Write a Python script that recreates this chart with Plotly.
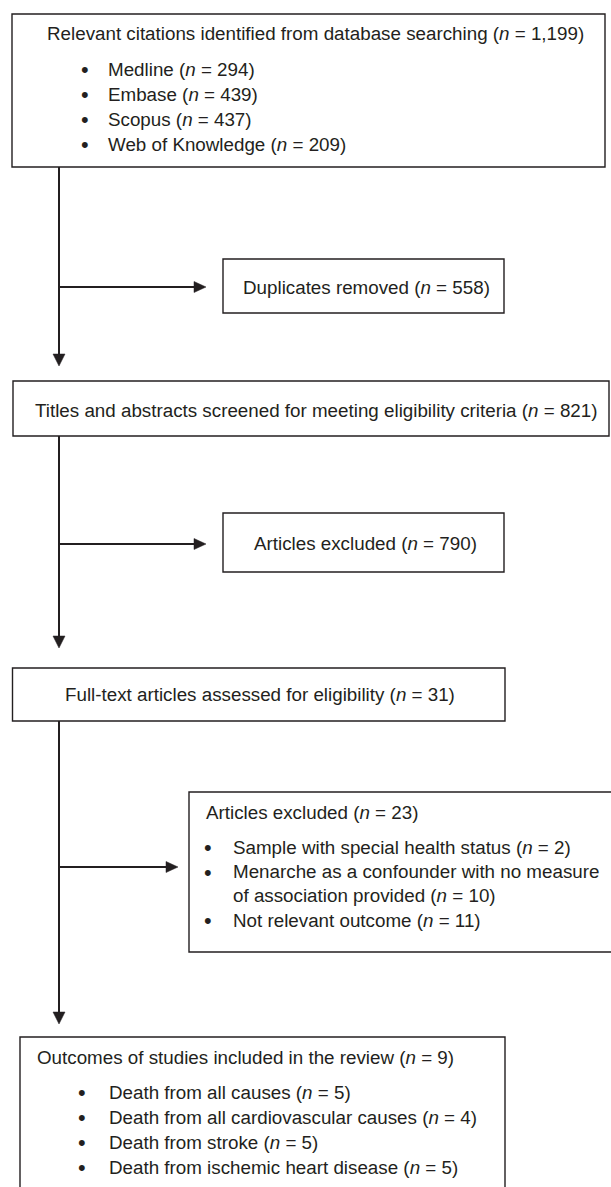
import plotly.graph_objects as go

# ---------------- data ----------------
stage_labels = [
    "Relevant citations identified from database searching",
    "Titles and abstracts screened for meeting eligibility criteria",
    "Full-text articles assessed for eligibility",
    "Outcomes of studies included in the review",
]
stage_n = ["1,199", "821", "31", "9"]

source_labels = ["Medline", "Embase", "Scopus", "Web of Knowledge"]
source_n = [294, 439, 437, 209]

removed_labels = ["Duplicates removed", "Articles excluded", "Articles excluded"]
removed_n = [558, 790, 23]

reason_labels = [
    "Sample with special health status",
    "Menarche as a confounder with no measure<br>of association provided",
    "Not relevant outcome",
]
reason_n = [2, 10, 11]

outcome_labels = [
    "Death from all causes",
    "Death from all cardiovascular causes",
    "Death from stroke",
    "Death from ischemic heart disease",
]
outcome_n = [5, 4, 5, 5]

# ---------------- styling / layout ----------------
W, H = 611, 1187
FONT = "Liberation Sans, Arial, Helvetica, sans-serif"
FS = 18.8
INK = "#231f20"
BOX_W = 1.4
LINE_W = 2


def lab(text, n):
    return f"{text} (<i>n</i> = {n})"


fig = go.Figure()
shapes = []
annotations = []


def box(x0, y0, x1, y1):
    shapes.append(dict(type="rect", xref="x", yref="y", x0=x0, y0=y0, x1=x1, y1=y1,
                       line=dict(color=INK, width=BOX_W), fillcolor="rgba(0,0,0,0)", layer="above"))


def line(x0, y0, x1, y1):
    shapes.append(dict(type="line", xref="x", yref="y", x0=x0, y0=y0, x1=x1, y1=y1,
                       line=dict(color=INK, width=LINE_W)))


def head_down(x, y):
    shapes.append(dict(type="path", xref="x", yref="y",
                       path=f"M {x-6},{y-12} L {x+6},{y-12} L {x},{y} Z",
                       fillcolor=INK, line=dict(color=INK, width=0.5)))


def head_right(x, y):
    shapes.append(dict(type="path", xref="x", yref="y",
                       path=f"M {x-12},{y-5.5} L {x-12},{y+5.5} L {x},{y} Z",
                       fillcolor=INK, line=dict(color=INK, width=0.5)))


def text(x, y, s, anchor="left"):
    annotations.append(dict(x=x, y=y, xref="x", yref="y", text=s, showarrow=False,
                            xanchor=anchor, yanchor="middle", align="left", borderpad=0,
                            font=dict(family=FONT, size=FS, color=INK)))


def bullet(x, y):
    annotations.append(dict(x=x, y=y, xref="x", yref="y", text="•", showarrow=False,
                            xanchor="center", yanchor="middle", borderpad=0,
                            font=dict(family=FONT, size=FS + 3, color=INK)))


# Stage boxes
stage_boxes = [(12, 14, 605, 167), (13, 381, 609, 436), (12.5, 668, 505, 721), (20, 1037, 505, 1200)]
for b in stage_boxes:
    box(*b)

# Box 1 text
text(46, 33, lab(stage_labels[0], stage_n[0]))
for i, (s, n) in enumerate(zip(source_labels, source_n)):
    y = 69 + i * 25.3
    bullet(85, y)
    text(107, y, lab(s, n))

# Box 2 text
text(34, 410, lab(stage_labels[1], stage_n[1]))
# Box 3 text
text(260, 694, lab(stage_labels[2], stage_n[2]), anchor="center")
# Box 4 text
text(36, 1057, lab(stage_labels[3], stage_n[3]))
for i, (s, n) in enumerate(zip(outcome_labels, outcome_n)):
    y = 1092 + i * 25.3
    bullet(82, y)
    text(108, y, lab(s, n))

# Side boxes
box(223, 259, 504, 313)
text(366, 287, lab(removed_labels[0], removed_n[0]), anchor="center")
box(223, 513, 504, 572)
text(365, 543, lab(removed_labels[1], removed_n[1]), anchor="center")
box(189, 792, 620, 952)
text(205, 812, lab(removed_labels[2], removed_n[2]))
reason_y = [847, 872, 920]
for s, n, y in zip(reason_labels, reason_n, reason_y):
    bullet(208, y)
    if "<br>" in s:
        text(232, y + 11.5, lab(s, n))
    else:
        text(232, y, lab(s, n))

# Connectors
VX = 59
segs = [(167, 366, 287, 206), (436, 648, 544, 206), (721, 1024, 867, 178)]
for y0, ytip, yb, xtip in segs:
    line(VX, y0, VX, ytip - 10)
    head_down(VX, ytip)
    line(VX, yb, xtip - 10, yb)
    head_right(xtip, yb)

fig.update_layout(
    width=W, height=H,
    margin=dict(l=0, r=0, t=0, b=0, pad=0),
    paper_bgcolor="white", plot_bgcolor="white",
    xaxis=dict(range=[0, W], visible=False, fixedrange=True),
    yaxis=dict(range=[H, 0], visible=False, fixedrange=True),
    shapes=shapes, annotations=annotations, showlegend=False,
)

fig.write_html("out.html", config={"displayModeBar": False},
               post_script="document.body.style.margin='0';")
